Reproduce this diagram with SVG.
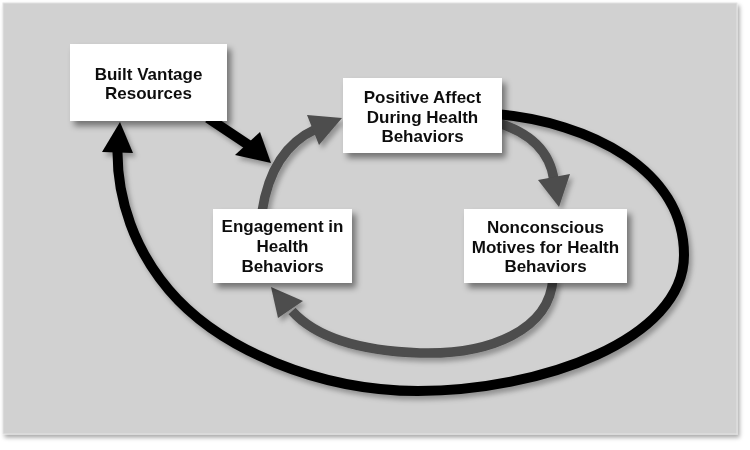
<svg xmlns="http://www.w3.org/2000/svg" width="750" height="450" viewBox="0 0 750 450">
<defs>
<filter id="panelShadow" x="-5%" y="-5%" width="110%" height="110%">
<feDropShadow dx="2" dy="3" stdDeviation="2" flood-color="#000" flood-opacity="0.35"/>
</filter>
<filter id="boxShadow" x="-20%" y="-20%" width="140%" height="150%">
<feDropShadow dx="4" dy="5" stdDeviation="3" flood-color="#000" flood-opacity="0.45"/>
</filter>
<filter id="arrowShadow" x="-20%" y="-20%" width="140%" height="140%">
<feDropShadow dx="3" dy="4" stdDeviation="2.5" flood-color="#000" flood-opacity="0.3"/>
</filter>
</defs>
<style>
.panel{fill:#d1d1d1;stroke:#e2e2e2;stroke-width:1}
.box{fill:#ffffff}
.lbl{font-family:"Liberation Sans",Arial,sans-serif;font-weight:bold;font-size:17px;fill:#111111;text-anchor:middle}
.blk{fill:none;stroke:#050505;stroke-width:10}
.gry{fill:none;stroke:#4d4d4d;stroke-width:9.5}
.blkHead{fill:#050505}
.gryHead{fill:#4d4d4d}
</style>
<rect width="750" height="450" fill="#ffffff"/>
<rect class="panel" x="3" y="3" width="734" height="431" filter="url(#panelShadow)"/>
<g id="connectors" filter="url(#arrowShadow)">
<path class="gry" d="M 262,212 C 268,172 285,143 316,129"/>
<polygon class="gryHead" points="342,118 307,115 319,145"/>
<path class="gry" d="M 495,122 C 530,132 550,152 554,180"/>
<polygon class="gryHead" points="559,207 538,180 570,174"/>
<path class="gry" d="M 553,278 C 550,330 490,355 420,353 C 365,351 318,340 292,311"/>
<polygon class="gryHead" points="271,287 278,318 303,301"/>
<path class="blk" d="M 208,118 L 250,146"/>
<polygon class="blkHead" points="271,163 235,155 260,132"/>
<path class="blk" d="M 495,114 C 590,122 684,170 684,255 C 684,340 540,391 418,391 C 320,391 220,350 169,290 C 135,250 117,200 117.5,150"/>
<polygon class="blkHead" points="120,122 102,152 133,153"/>
</g>
<g id="node-built-vantage" filter="url(#boxShadow)">
<rect class="box" x="70" y="44" width="157" height="77"/>
<text class="lbl" x="148.5" y="80">Built Vantage</text>
<text class="lbl" x="148.5" y="99">Resources</text>
</g>
<g id="node-positive-affect" filter="url(#boxShadow)">
<rect class="box" x="343" y="78" width="159" height="75"/>
<text class="lbl" x="422.5" y="103">Positive Affect</text>
<text class="lbl" x="422.5" y="122.5">During Health</text>
<text class="lbl" x="422.5" y="142">Behaviors</text>
</g>
<g id="node-engagement" filter="url(#boxShadow)">
<rect class="box" x="213" y="209" width="139" height="74"/>
<text class="lbl" x="282.5" y="232">Engagement in</text>
<text class="lbl" x="282.5" y="252">Health</text>
<text class="lbl" x="282.5" y="272">Behaviors</text>
</g>
<g id="node-nonconscious" filter="url(#boxShadow)">
<rect class="box" x="464" y="209" width="163" height="74"/>
<text class="lbl" x="545.5" y="233">Nonconscious</text>
<text class="lbl" x="545.5" y="252.5">Motives for Health</text>
<text class="lbl" x="545.5" y="272">Behaviors</text>
</g>
</svg>
